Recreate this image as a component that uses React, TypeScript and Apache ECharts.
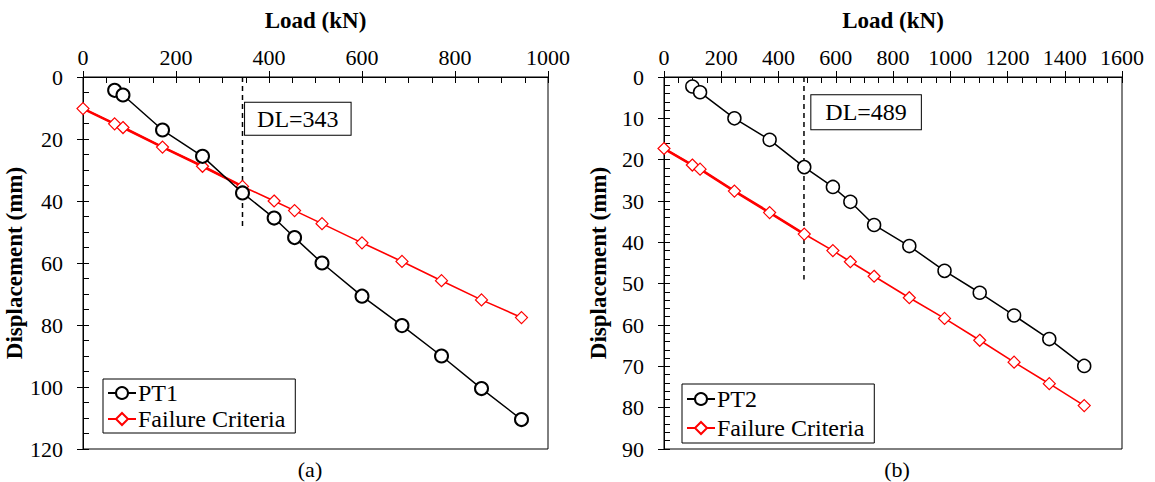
import React, { useEffect, useRef } from 'react';
import * as echarts from 'echarts';

// ---- Data ----
const pt1Load = [68, 86, 171, 257, 343, 411, 455, 514, 600, 686, 771, 857, 943];
const pt1Disp = [4.3, 5.8, 17.1, 25.6, 37.4, 45.5, 51.8, 60.0, 70.7, 80.2, 90.0, 100.5, 110.5];
const fc1Load = [0, 68, 86, 171, 257, 343, 411, 455, 514, 600, 686, 771, 857, 943];
const fc1Disp = [10.2, 15.1, 16.3, 22.6, 28.8, 35.3, 40.0, 43.1, 47.3, 53.5, 59.5, 65.7, 71.9, 77.6];

const pt2Load = [99, 126, 246, 369, 490, 590, 651, 734, 857, 980, 1103, 1223, 1346, 1468];
const pt2Disp = [2.3, 3.7, 10.0, 15.2, 21.8, 26.6, 30.2, 35.8, 40.9, 46.9, 52.2, 57.7, 63.4, 69.9];
const fc2Load = [0, 99, 126, 246, 369, 490, 590, 651, 734, 857, 980, 1103, 1223, 1346, 1468];
const fc2Disp = [17.3, 21.3, 22.3, 27.6, 32.8, 38.0, 42.0, 44.7, 48.2, 53.4, 58.4, 63.7, 69.0, 74.2, 79.5];

const dl1 = 343;
const dl2 = 489;
const dlDepth = [0, 49];

const seriesNames = ['PT1', 'PT2', 'Failure Criteria'];
const captions = ['(a)', '(b)'];

const FONT = 'Liberation Serif';

const zip = (xs: number[], ys: number[]) => xs.map((x, i) => [x, ys[i]]);
const plain = (v: number) => String(v);

function xAxes(gridIndex: number, max: number) {
  const base = {
    gridIndex,
    type: 'value',
    position: 'top',
    min: 0,
    max,
    interval: 200,
    splitLine: { show: false },
  };
  return [
    {
      ...base,
      name: 'Load (kN)',
      nameLocation: 'middle',
      nameGap: 45,
      nameTextStyle: { fontFamily: FONT, fontSize: 23, fontWeight: 'bold', color: '#000' },
      axisLine: { show: true, onZero: false, lineStyle: { color: '#000', width: 1 } },
      axisTick: { show: true, inside: false, length: 6, lineStyle: { color: '#000', width: 1 } },
      minorTick: { show: false },
      axisLabel: { fontFamily: FONT, fontSize: 22, color: '#000', margin: 9, formatter: plain },
    },
    {
      ...base,
      axisLine: { show: false, onZero: false },
      axisTick: { show: true, inside: true, length: 6, lineStyle: { color: '#000', width: 1 } },
      minorTick: { show: true, splitNumber: 4, length: 6, lineStyle: { color: '#000', width: 1 } },
      axisLabel: { show: false },
    },
  ];
}

function yAxes(gridIndex: number, max: number, interval: number, minorSplit: number, nameGap: number) {
  const base = {
    gridIndex,
    type: 'value',
    position: 'left',
    inverse: true,
    min: 0,
    max,
    interval,
    splitLine: { show: false },
  };
  return [
    {
      ...base,
      name: 'Displacement (mm)',
      nameLocation: 'middle',
      nameGap,
      nameTextStyle: { fontFamily: FONT, fontSize: 23, fontWeight: 'bold', color: '#000' },
      axisLine: { show: true, onZero: false, lineStyle: { color: '#000', width: 1 } },
      axisTick: { show: true, inside: false, length: 6, lineStyle: { color: '#000', width: 1 } },
      minorTick: { show: false },
      axisLabel: { fontFamily: FONT, fontSize: 22, color: '#000', margin: 20, formatter: plain },
    },
    {
      ...base,
      axisLine: { show: false, onZero: false },
      axisTick: { show: true, inside: true, length: 6, lineStyle: { color: '#000', width: 1 } },
      minorTick: { show: true, splitNumber: minorSplit, length: 6, lineStyle: { color: '#000', width: 1 } },
      axisLabel: { show: false },
    },
  ];
}

function ptSeries(name: string, axis: number, load: number[], disp: number[], bw: number) {
  return {
    name,
    type: 'line',
    xAxisIndex: axis,
    yAxisIndex: axis,
    data: zip(load, disp),
    symbol: 'circle',
    symbolSize: 13,
    itemStyle: { color: '#fff', borderColor: '#000', borderWidth: bw },
    lineStyle: { color: '#000', width: 1.5 },
    z: 4,
  };
}

function fcSeries(axis: number, load: number[], disp: number[]) {
  return {
    name: seriesNames[2],
    type: 'line',
    xAxisIndex: axis,
    yAxisIndex: axis,
    data: zip(load, disp),
    symbol: 'diamond',
    symbolSize: 12,
    itemStyle: { color: '#fff', borderColor: '#ff0000', borderWidth: 1.2 },
    lineStyle: { color: '#ff0000', width: 1.6 },
    z: 3,
  };
}

function fcThick(name: string, axis: number, load: number[], disp: number[], dl: number) {
  const pts = zip(load, disp).filter((p) => p[0] <= dl + 1);
  return {
    name,
    type: 'line',
    xAxisIndex: axis,
    yAxisIndex: axis,
    data: pts,
    symbol: 'none',
    lineStyle: { color: '#ff0000', width: 2.6 },
    z: 2,
    silent: true,
  };
}

function dlSeries(name: string, axis: number, dl: number, labelAt: number[], pad: number[]) {
  return {
    name,
    type: 'line',
    xAxisIndex: axis,
    yAxisIndex: axis,
    data: dlDepth.map((d) => [dl, d]),
    symbol: 'none',
    lineStyle: { color: '#000', width: 1.5, type: [5, 4] },
    z: 1,
    silent: true,
    markPoint: {
      symbol: 'rect',
      symbolSize: 1,
      itemStyle: { color: 'rgba(0,0,0,0)' },
      silent: true,
      data: [{ coord: labelAt }],
      label: {
        show: true,
        position: 'inside',
        formatter: 'DL=' + dl,
        fontFamily: FONT,
        fontSize: 24,
        color: '#000',
        backgroundColor: '#fff',
        borderColor: '#000',
        borderWidth: 1,
        padding: pad,
      },
    },
  };
}

function legend(left: number, top: number, name: string, gap: number, pad: number[]) {
  return {
    orient: 'vertical',
    left,
    top,
    data: [name, seriesNames[2]],
    borderColor: '#000',
    borderWidth: 1,
    backgroundColor: '#fff',
    padding: pad,
    itemWidth: 28,
    itemHeight: 15,
    itemGap: gap,
    selectedMode: false,
    textStyle: { fontFamily: FONT, fontSize: 24, color: '#000', padding: [0, 0, 0, -3] },
  };
}

export default function App() {
  const ref = useRef<HTMLDivElement>(null);
  useEffect(() => {
    document.body.style.margin = '0';
    const chart = echarts.init(ref.current!, null, { renderer: 'svg' });
    const option = {
      animation: false,
      backgroundColor: '#fff',
      grid: [
        { left: 83, top: 77, width: 465, height: 372, show: true, borderColor: '#000', borderWidth: 1 },
        { left: 664, top: 77, width: 458, height: 372, show: true, borderColor: '#000', borderWidth: 1 },
      ],
      xAxis: [...xAxes(0, 1000), ...xAxes(1, 1600)],
      yAxis: [...yAxes(0, 120, 20, 4, 57), ...yAxes(1, 90, 10, 5, 54)],
      legend: [
        legend(103, 379, seriesNames[0], 2, [2, 10, 2, 4]),
        legend(682, 384, seriesNames[1], 5, [3, 10, 3, 4]),
      ],
      series: [
        dlSeries('DL1', 0, dl1, [462, 13.5], [4, 12]),
        fcThick('fc1-thick', 0, fc1Load, fc1Disp, dl1),
        fcSeries(0, fc1Load, fc1Disp),
        ptSeries(seriesNames[0], 0, pt1Load, pt1Disp, 2),
        dlSeries('DL2', 2, dl2, [706, 8.5], [5, 14]),
        fcThick('fc2-thick', 2, fc2Load, fc2Disp, dl2),
        fcSeries(2, fc2Load, fc2Disp),
        ptSeries(seriesNames[1], 2, pt2Load, pt2Disp, 1.5),
      ],
      graphic: [
        {
          type: 'text',
          x: 310,
          y: 469,
          style: { text: captions[0], fontFamily: FONT, fontSize: 22, fill: '#000', textAlign: 'center', textVerticalAlign: 'middle' },
        },
        {
          type: 'text',
          x: 897,
          y: 469,
          style: { text: captions[1], fontFamily: FONT, fontSize: 22, fill: '#000', textAlign: 'center', textVerticalAlign: 'middle' },
        },
      ],
    };
    chart.setOption(option as any);
    return () => chart.dispose();
  }, []);
  return <div ref={ref} style={{ position: 'absolute', left: 0, top: 0, width: 1155, height: 482 }} />;
}
